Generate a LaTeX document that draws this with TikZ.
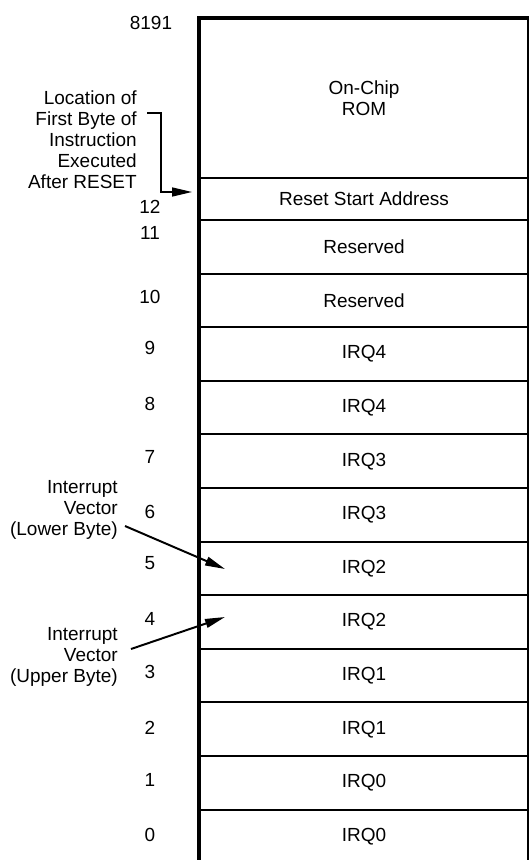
\documentclass[tikz,border=0pt]{standalone}
\usepackage{fontspec}
\setmainfont{Liberation Sans}
\usetikzlibrary{arrows.meta}
\begin{document}
\begin{tikzpicture}[x=0.025cm, y=-0.025cm, >={Triangle[length=5mm,width=2.2mm]},
    font=\fontsize{13.5}{15}\selectfont,
    cell/.style={draw, line width=1.4pt, minimum width=8.2cm, inner sep=0pt},
    addr/.style={inner sep=0pt},
    note/.style={align=right, anchor=east, inner sep=0pt},
    pointer/.style={->, line width=1.4pt}]
    \useasboundingbox (0,0) rectangle (529,860);
    % rom and reset row
    \node[cell, minimum height=3.975cm, align=center] (rom) at (364,98.5) {On-Chip\\ROM};
    \node[cell, minimum height=1.05cm] (reset) at (364,199) {Reset Start Address};
    \node[addr] (a8191) at (151,23) {8191};
    \node[addr] (a12) at (150,207) {12};
    % vector rows
    \foreach \n/\t/\ly [evaluate=\n as \yc using {246.8+(11-\n)*53.6}] in
        {11/Reserved/233, 10/Reserved/297, 9/IRQ4/348, 8/IRQ4/404, 7/IRQ3/457, 6/IRQ3/512,
         5/IRQ2/563, 4/IRQ2/619, 3/IRQ1/672, 2/IRQ1/728, 1/IRQ0/780, 0/IRQ0/835} {
        \node[cell, minimum height=1.34cm] (m\n) at (364,\yc) {\t};
        \node[addr] (a\n) at (150,\ly) {\n};
    }
    % thick border
    \draw[line width=3.2pt] (rom.north east) -- (rom.north west) -- (m0.south west);

    % notes
    \node[note] (reset note) at (137,140) {Location of\\First Byte of\\Instruction\\Executed\\After RESET};
    \node[note] (lower note) at (118,510) {Interrupt\\Vector\\(Lower Byte)};
    \node[note] (upper note) at (118,657) {Interrupt\\Vector\\(Upper Byte)};
    \coordinate (reset tail) at (147,113);
    \coordinate (reset bend) at (161,192);
    \coordinate (lower tail) at (125,526);
    \coordinate (lower tip) at (225,569);
    \coordinate (upper tail) at (131,649);
    \coordinate (upper tip) at (225,617);

    % arrows
    \draw[pointer, shorten >=1.7mm] (reset tail) -| (reset bend) -- (reset.west |- reset bend);
    \draw[pointer] (lower tail) -- (lower tip);
    \draw[pointer] (upper tail) -- (upper tip);
\end{tikzpicture}
\end{document}
